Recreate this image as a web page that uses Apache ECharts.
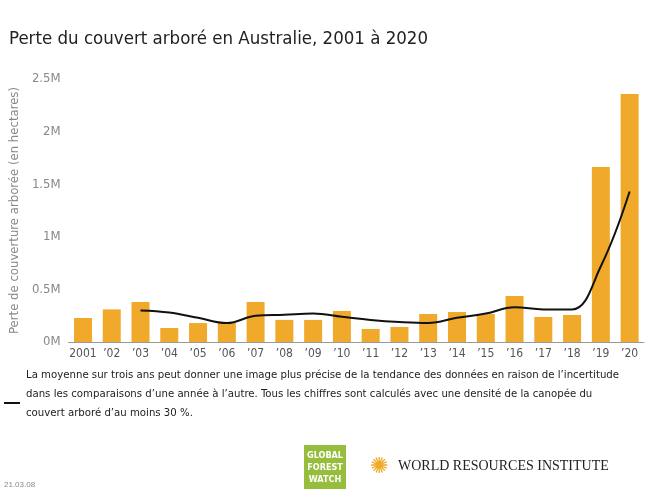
<!DOCTYPE html>
<html>
<head>
<meta charset="utf-8" />
<script src="https://cdn.jsdelivr.net/npm/echarts@6/dist/echarts.min.js"></script>
<style>
  html, body { margin: 0; padding: 0; background: #fff; }
  #chart { width: 648px; height: 502px; }
</style>
</head>
<body>
<div id="chart"></div>
<script>
var years = ['2001', '’02', '’03', '’04', '’05', '’06', '’07', '’08', '’09', '’10',
             '’11', '’12', '’13', '’14', '’15', '’16', '’17', '’18', '’19', '’20'];
var loss = [0.228, 0.31, 0.38, 0.133, 0.18, 0.18, 0.38, 0.21, 0.21, 0.295,
            0.124, 0.143, 0.266, 0.285, 0.266, 0.437, 0.238, 0.257, 1.664, 2.357];
var avg3 = [null, null, 0.30, 0.28, 0.23, 0.18, 0.25, 0.26, 0.27, 0.24,
            0.21, 0.19, 0.18, 0.23, 0.27, 0.33, 0.31, 0.31, 0.72, 1.43];

var font = '"DejaVu Sans Condensed", "Liberation Sans Narrow", "Roboto", sans-serif';
var chart = echarts.init(document.getElementById('chart'));
chart.setOption({
    animation: false,
    textStyle: { fontFamily: font },
    title: {
        text: 'Perte du couvert arboré en Australie, 2001 à 2020',
        left: 4, top: 25,
        textStyle: { fontFamily: font, fontSize: 18.5, fontWeight: 'normal', color: '#222' }
    },
    grid: { left: 57, right: 4, top: 79, bottom: 160 },
    xAxis: {
        type: 'category',
        data: years,
        axisLine: { lineStyle: { color: '#999' } },
        axisTick: { show: false },
        axisLabel: { color: '#555', fontSize: 12, fontFamily: font, margin: 6, interval: 0 }
    },
    yAxis: {
        type: 'value',
        min: 0, max: 2.5, interval: 0.5,
        name: 'Perte de couverture arborée (en hectares)',
        nameLocation: 'middle', nameGap: 42,
        nameTextStyle: { color: '#888', fontSize: 13, fontFamily: font },
        axisLabel: {
            color: '#888', fontSize: 13, fontFamily: font,
            formatter: function (v) { return v === 0 ? '0M' : v + 'M'; }
        },
        splitLine: { show: false }
    },
    series: [
        {
            type: 'bar', data: loss, barWidth: 18,
            itemStyle: { color: '#f0a92a' }
        },
        {
            type: 'line', data: avg3, smooth: 0.4, symbol: 'none',
            lineStyle: { color: '#111', width: 2 }
        }
    ],
    graphic: [
        { type: 'line', shape: { x1: 4, y1: 403, x2: 20, y2: 403 }, style: { stroke: '#111', lineWidth: 2 } },
        { type: 'text', left: 26, top: 366, style: {
            text: 'La moyenne sur trois ans peut donner une image plus précise de la tendance des données en raison de l’incertitude\ndans les comparaisons d’une année à l’autre. Tous les chiffres sont calculés avec une densité de la canopée du\ncouvert arboré d’au moins 30 %.',
            font: '11.3px ' + font, fill: '#222', lineHeight: 19 } },
        { type: 'text', left: 4, top: 481, style: { text: '21.03.08', font: '8px sans-serif', fill: '#888' } },
        { type: 'rect', shape: { x: 304, y: 445, width: 42, height: 44 }, style: { fill: '#97bd3d' } },
        { type: 'text', x: 325, y: 450, style: { text: 'GLOBAL\nFOREST\nWATCH', align: 'center', font: 'bold 9px ' + font, fill: '#fff', lineHeight: 12 } },
        { type: 'text', left: 370, top: 456, style: { text: '✺', font: '22px sans-serif', fill: '#f0a92a' } },
        { type: 'text', left: 398, top: 459, style: { text: 'WORLD RESOURCES INSTITUTE', font: '14px "Liberation Serif", serif', fill: '#222' } }
    ]
});
</script>
</body>
</html>
